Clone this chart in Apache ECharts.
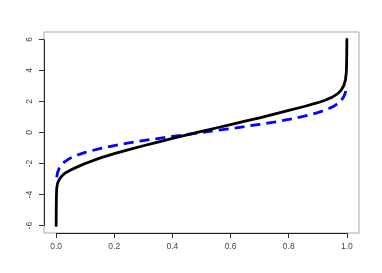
<!DOCTYPE html>
<html>
<head>
<meta charset="utf-8">
<script src="https://cdn.jsdelivr.net/npm/echarts@6/dist/echarts.min.js"></script>
<style>html,body{margin:0;padding:0;background:#fff}#c{width:382px;height:273px}</style>
</head>
<body>
<div id="c"></div>
<script>
var xTicks = [0, 0.2, 0.4, 0.6, 0.8, 1.0];
var yTicks = [-6, -4, -2, 0, 2, 4, 6];
var solidProbs = [0.0001, 0.0005, 0.001, 0.002, 0.005, 0.01, 0.02, 0.03, 0.05, 0.075, 0.1, 0.15, 0.2, 0.25, 0.3, 0.35, 0.4, 0.45, 0.5, 0.55, 0.6, 0.65, 0.7, 0.75, 0.8, 0.85, 0.9, 0.925, 0.95, 0.97, 0.98, 0.99, 0.995, 0.998, 0.999, 0.9995, 0.9999];
var solidQuant = [-6.0, -4.8, -4.1, -3.6, -3.28, -3.05, -2.8, -2.63, -2.42, -2.2, -2.0, -1.65, -1.36, -1.1, -0.855, -0.615, -0.38, -0.15, 0.07, 0.29, 0.51, 0.73, 0.95, 1.18, 1.42, 1.66, 1.92, 2.08, 2.28, 2.52, 2.72, 3.05, 3.4, 3.85, 4.4, 5.0, 6.0];
var dashProbs = [0.002, 0.005, 0.01, 0.02, 0.03, 0.05, 0.075, 0.1, 0.15, 0.2, 0.25, 0.3, 0.35, 0.4, 0.45, 0.5, 0.55, 0.6, 0.65, 0.7, 0.75, 0.8, 0.85, 0.9, 0.925, 0.95, 0.97, 0.98, 0.99, 0.995, 0.998];
var dashQuant = [-2.88, -2.58, -2.33, -2.05, -1.88, -1.64, -1.44, -1.28, -1.04, -0.84, -0.67, -0.52, -0.39, -0.25, -0.13, 0.0, 0.13, 0.25, 0.39, 0.52, 0.67, 0.84, 1.04, 1.28, 1.44, 1.64, 1.88, 2.05, 2.33, 2.58, 2.86];

var xMin = -0.0417, xMax = 1.0417, yMin = -6.48, yMax = 6.48;
function zip(a, b) { return a.map(function (v, i) { return [v, b[i]]; }); }

var chart = echarts.init(document.getElementById('c'), null, {renderer: 'canvas'});
var labelFont = {fontFamily: 'Liberation Sans, Arial, sans-serif', fontSize: 8.5, color: '#444'};
chart.setOption({
  animation: false,
  backgroundColor: '#fff',
  grid: {left: 44, right: 23, top: 32, bottom: 40, show: true, borderColor: '#aaa', borderWidth: 1},
  xAxis: {
    type: 'value', min: xMin, max: xMax,
    splitLine: {show: false},
    axisLine: {show: false, onZero: false},
    axisTick: {show: true, inside: false, length: 5, customValues: xTicks, lineStyle: {color: '#333'}},
    axisLabel: Object.assign({customValues: xTicks, margin: 9, formatter: function (v) { return v.toFixed(1); }}, labelFont)
  },
  yAxis: {
    type: 'value', min: yMin, max: yMax,
    splitLine: {show: false},
    axisLine: {show: false, onZero: false},
    axisTick: {show: true, inside: false, length: 5, customValues: yTicks, lineStyle: {color: '#333'}},
    axisLabel: Object.assign({customValues: yTicks, margin: 10, rotate: 90, formatter: function (v) { return String(v); }}, labelFont)
  },
  series: [
    {
      type: 'line', data: zip(solidProbs, solidQuant), showSymbol: false, smooth: false,
      lineStyle: {color: '#000', width: 2.8, cap: 'round', join: 'round'},
      markLine: {
        silent: true, symbol: 'none', label: {show: false}, animation: false,
        lineStyle: {color: '#222', width: 1, type: 'solid'},
        data: [
          [{coord: [xMin, yTicks[0]]}, {coord: [xMin, yTicks[yTicks.length - 1]]}],
          [{coord: [xTicks[0], yMin]}, {coord: [xTicks[xTicks.length - 1], yMin]}]
        ]
      },
      z: 3
    },
    {
      type: 'line', data: zip(dashProbs, dashQuant), showSymbol: false, smooth: false,
      lineStyle: {color: '#0000ff', width: 2.8, type: [10, 6], cap: 'butt', join: 'round'},
      z: 2
    }
  ]
});
</script>
</body>
</html>
